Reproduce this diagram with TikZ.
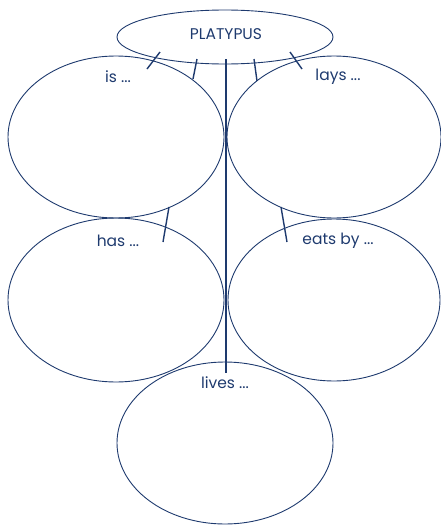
\documentclass[tikz,border=0pt]{standalone}
\usepackage{fontspec}
\setmainfont{Poppins}
\definecolor{navy}{HTML}{1E3A6E}
\begin{document}
\begin{tikzpicture}[x=1pt,y=-1pt,
  lbl/.style={text=navy,font=\fontsize{15.5}{18}\selectfont,inner sep=0pt},
  tick/.style={draw=navy,line width=1.4pt}]
\useasboundingbox (0,0) rectangle (441,525);
\draw[navy,line width=0.9pt] (225,37) ellipse [x radius=108,y radius=27];
\draw[navy,line width=0.9pt] (116,137) ellipse [x radius=108,y radius=81];
\draw[navy,line width=0.9pt] (334,137) ellipse [x radius=107,y radius=81];
\draw[navy,line width=0.9pt] (116,300) ellipse [x radius=108,y radius=82];
\draw[navy,line width=0.9pt] (334,300) ellipse [x radius=106,y radius=81];
\draw[navy,line width=0.9pt] (225,443) ellipse [x radius=108,y radius=81];
\node[lbl] (plat) at (226,34) {PLATYPUS};
\node[lbl] (is) at (118,77) {is ...};
\node[lbl] (lays) at (338,77) {lays ...};
\node[lbl] (has) at (118,241) {has ...};
\node[lbl] (eats) at (338,241) {eats by ...};
\node[lbl] (lives) at (225,383) {lives ...};
\coordinate (t1a) at (160,52); \coordinate (t1b) at (147,69);
\coordinate (t2a) at (197,59); \coordinate (t2b) at (193,79);
\coordinate (t3a) at (226,59); \coordinate (t3b) at (226,373);
\coordinate (t4a) at (254,59); \coordinate (t4b) at (257,81);
\coordinate (t5a) at (290,52); \coordinate (t5b) at (302,69);
\coordinate (t6a) at (169,207); \coordinate (t6b) at (163,242);
\coordinate (t7a) at (281,207); \coordinate (t7b) at (287,242);
\foreach \i in {1,...,7} \draw[tick] (t\i a) -- (t\i b);
\end{tikzpicture}
\end{document}
